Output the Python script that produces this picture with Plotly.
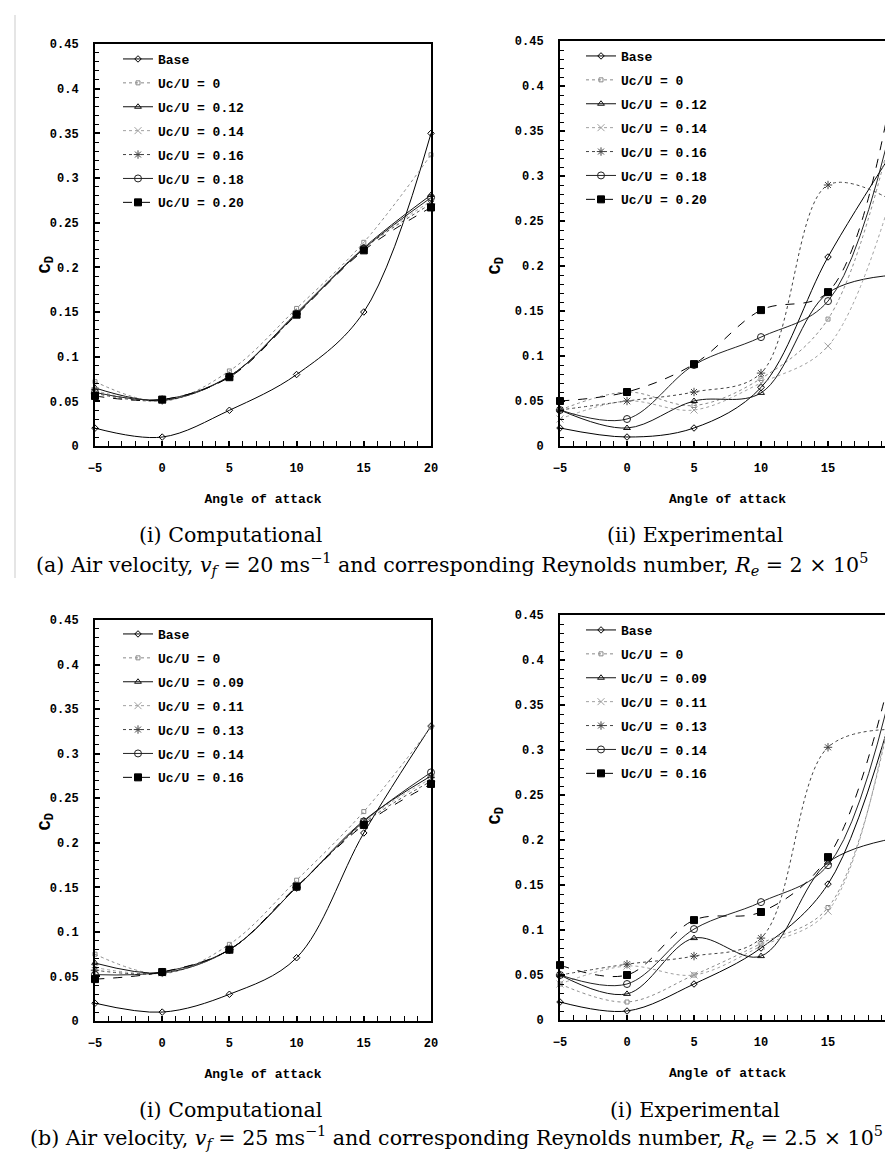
import plotly.graph_objects as go

W, H = 893, 1152

angles = [-5, 0, 5, 10, 15, 20]

# (a)(i) Computational, 20 m/s
a_comp_base = [0.020, 0.010, 0.040, 0.080, 0.150, 0.350]
a_comp_u000 = [0.072, 0.050, 0.084, 0.154, 0.228, 0.326]
a_comp_u012 = [0.065, 0.051, 0.078, 0.149, 0.222, 0.281]
a_comp_u014 = [0.062, 0.051, 0.078, 0.148, 0.222, 0.274]
a_comp_u016 = [0.059, 0.051, 0.078, 0.148, 0.221, 0.271]
a_comp_u018 = [0.060, 0.052, 0.078, 0.148, 0.221, 0.278]
a_comp_u020 = [0.056, 0.052, 0.077, 0.147, 0.219, 0.267]

# (a)(ii) Experimental, 20 m/s
a_exp_base = [0.020, 0.010, 0.020, 0.065, 0.210, 0.331]
a_exp_u000 = [0.040, 0.060, 0.045, 0.075, 0.141, 0.364]
a_exp_u012 = [0.040, 0.020, 0.050, 0.059, 0.170, 0.190]
a_exp_u014 = [0.030, 0.050, 0.040, 0.070, 0.111, 0.291]
a_exp_u016 = [0.040, 0.050, 0.060, 0.081, 0.290, 0.271]
a_exp_u018 = [0.040, 0.030, 0.090, 0.121, 0.161, 0.373]
a_exp_u020 = [0.050, 0.060, 0.091, 0.151, 0.171, 0.413]

# (b)(i) Computational, 25 m/s
b_comp_base = [0.020, 0.010, 0.030, 0.071, 0.211, 0.331]
b_comp_u000 = [0.075, 0.053, 0.086, 0.158, 0.235, 0.330]
b_comp_u009 = [0.065, 0.054, 0.080, 0.150, 0.225, 0.275]
b_comp_u011 = [0.060, 0.054, 0.080, 0.150, 0.224, 0.272]
b_comp_u013 = [0.057, 0.054, 0.080, 0.150, 0.222, 0.269]
b_comp_u014 = [0.052, 0.055, 0.080, 0.150, 0.224, 0.279]
b_comp_u016 = [0.047, 0.055, 0.080, 0.151, 0.220, 0.266]

# (b)(ii) Experimental, 25 m/s
b_exp_base = [0.020, 0.010, 0.040, 0.080, 0.151, 0.353]
b_exp_u000 = [0.040, 0.020, 0.050, 0.085, 0.125, 0.365]
b_exp_u009 = [0.050, 0.029, 0.091, 0.071, 0.175, 0.202]
b_exp_u011 = [0.040, 0.060, 0.050, 0.082, 0.121, 0.374]
b_exp_u013 = [0.050, 0.062, 0.071, 0.091, 0.303, 0.323]
b_exp_u014 = [0.050, 0.040, 0.101, 0.131, 0.172, 0.384]
b_exp_u016 = [0.061, 0.050, 0.111, 0.120, 0.181, 0.404]

labels_a = ["Base", "Uc/U = 0", "Uc/U = 0.12", "Uc/U = 0.14",
            "Uc/U = 0.16", "Uc/U = 0.18", "Uc/U = 0.20"]
labels_b = ["Base", "Uc/U = 0", "Uc/U = 0.09", "Uc/U = 0.11",
            "Uc/U = 0.13", "Uc/U = 0.14", "Uc/U = 0.16"]

y_tickvals = [0, 0.05, 0.1, 0.15, 0.2, 0.25, 0.3, 0.35, 0.4, 0.45]
y_ticktext = ["0", "0.05", "0.1", "0.15", "0.2", "0.25", "0.3", "0.35", "0.4", "0.45"]
x_tickvals = [-5, 0, 5, 10, 15, 20]
x_ticktext = ["\u22125", "0", "5", "10", "15", "20"]

# styles: (color, dash, symbol, size)
styles = [
    ("#000000", "solid", "diamond-open", 5),
    ("#8a8a8a", "dot", "square-open", 4),
    ("#111111", "solid", "triangle-up-open", 6),
    ("#a0a0a0", "dot", "x-thin-open", 7),
    ("#444444", "dot", "asterisk-open", 7),
    ("#222222", "solid", "circle-open", 7),
    ("#000000", "dash", "square", 7),
]

MONO = "Liberation Mono"
SERIF = "DejaVu Serif"

fig = go.Figure()

panels = [
    ("x", "y", "legend", labels_a,
     [a_comp_base, a_comp_u000, a_comp_u012, a_comp_u014, a_comp_u016, a_comp_u018, a_comp_u020]),
    ("x2", "y2", "legend2", labels_a,
     [a_exp_base, a_exp_u000, a_exp_u012, a_exp_u014, a_exp_u016, a_exp_u018, a_exp_u020]),
    ("x3", "y3", "legend3", labels_b,
     [b_comp_base, b_comp_u000, b_comp_u009, b_comp_u011, b_comp_u013, b_comp_u014, b_comp_u016]),
    ("x4", "y4", "legend4", labels_b,
     [b_exp_base, b_exp_u000, b_exp_u009, b_exp_u011, b_exp_u013, b_exp_u014, b_exp_u016]),
]

for pi, (xa, ya, lg, labels, series) in enumerate(panels):
    for si, (lab, vals) in enumerate(zip(labels, series)):
        col, dash, sym, msz = styles[si]
        fig.add_trace(go.Scatter(
            x=angles, y=vals, name=lab, xaxis=xa, yaxis=ya, legend=lg,
            legendgroup=f"p{pi}s{si}",
            mode="lines+markers", cliponaxis=False,
            line=dict(color=col, width=1, dash=dash, shape="spline", smoothing=1.0),
            marker=dict(symbol=sym, size=msz, color=col, line=dict(color=col, width=1)),
        ))

def px_x(p):
    return p / W

def px_y(p):
    return 1 - p / H

doms = {
    1: ((87, 423), (36, 438)),
    2: ((552, 887), (33, 438)),
    3: ((87, 423), (612, 1013)),
    4: ((552, 887), (607, 1012)),
}

axis_common_x = dict(
    range=[-5, 20], tickmode="array", tickvals=x_tickvals, ticktext=x_ticktext,
    ticks="inside", ticklen=5, tickwidth=1.5, tickcolor="black",
    showline=True, linewidth=2, linecolor="black", mirror=True,
    showgrid=False, zeroline=False, automargin=False,
    tickfont=dict(family=MONO, size=12, color="black", weight="bold"),
    ticklabelstandoff=10, ticklabeloverflow="allow",
    minor=dict(dtick=1, ticks="inside", ticklen=5, tickwidth=1, tickcolor="black", showgrid=False),
    title=dict(text="Angle of attack", font=dict(family=MONO, size=13, color="black", weight="bold"), standoff=18),
)
axis_common_y = dict(
    range=[0, 0.45], tickmode="array", tickvals=y_tickvals, ticktext=y_ticktext,
    ticks="inside", ticklen=5, tickwidth=1.5, tickcolor="black",
    showline=True, linewidth=2, linecolor="black", mirror=True,
    showgrid=False, zeroline=False, automargin=False,
    tickfont=dict(family=MONO, size=12, color="black", weight="bold"),
    ticklabelstandoff=12, ticklabeloverflow="allow",
    minor=dict(dtick=0.01, ticks="inside", ticklen=4, tickwidth=1, tickcolor="black", showgrid=False),
)

layout = dict(
    width=W, height=H, margin=dict(l=0, r=0, t=0, b=0, autoexpand=False),
    paper_bgcolor="white", plot_bgcolor="white", showlegend=True,
    font=dict(family=MONO, size=12, color="black"),
)
for i in range(1, 5):
    (x0, x1), (y0, y1) = doms[i]
    xk = "xaxis" if i == 1 else f"xaxis{i}"
    yk = "yaxis" if i == 1 else f"yaxis{i}"
    xa = dict(axis_common_x, domain=[px_x(x0), px_x(x1)], anchor="y" if i == 1 else f"y{i}")
    ya = dict(axis_common_y, domain=[px_y(y1), px_y(y0)], anchor="x" if i == 1 else f"x{i}")
    layout[xk] = xa
    layout[yk] = ya

legend_pos = {"legend": (110, 36), "legend2": (573, 33), "legend3": (110, 611), "legend4": (573, 607)}
for lg, (lx, ly) in legend_pos.items():
    layout[lg] = dict(
        x=px_x(lx), y=px_y(ly), xanchor="left", yanchor="top",
        bgcolor="rgba(0,0,0,0)", borderwidth=0, tracegroupgap=4,
        font=dict(family=MONO, size=13, color="black", weight="bold"),
        itemwidth=30,
    )

fig.update_layout(**layout)

ann = []
for (cx, cy) in [(25, 247), (488, 247), (25, 825), (488, 818)]:
    ann.append(dict(x=px_x(cx), y=px_y(cy), xref="paper", yref="paper",
                    text="C<sub>D</sub>", showarrow=False, textangle=-90,
                    font=dict(family=MONO, size=17, color="black", weight="bold")))

cap_font = dict(family=SERIF, size=20.6, color="black")
captions = [
    (222, 527, "(i) Computational"),
    (687, 527, "(ii) Experimental"),
    (444, 556, "(a) Air velocity, <i>v<sub>f</sub></i> = 20 ms<sup>\u22121</sup> and corresponding Reynolds number, <i>R<sub>e</sub></i> = 2 \u00d7 10<sup>5</sup>"),
    (222, 1102, "(i) Computational"),
    (687, 1102, "(i) Experimental"),
    (449, 1129, "(b) Air velocity, <i>v<sub>f</sub></i> = 25 ms<sup>\u22121</sup> and corresponding Reynolds number, <i>R<sub>e</sub></i> = 2.5 \u00d7 10<sup>5</sup>"),
]
for (cx, cy, t) in captions:
    ann.append(dict(x=px_x(cx), y=px_y(cy), xref="paper", yref="paper", text=t,
                    showarrow=False, font=cap_font, xanchor="center", yanchor="middle"))

fig.update_layout(annotations=ann)

fig.add_shape(type="line", xref="paper", yref="paper",
              x0=px_x(7), x1=px_x(7), y0=px_y(7), y1=px_y(570),
              line=dict(color="#dddddd", width=1.5))

fig.write_html("out.html")
